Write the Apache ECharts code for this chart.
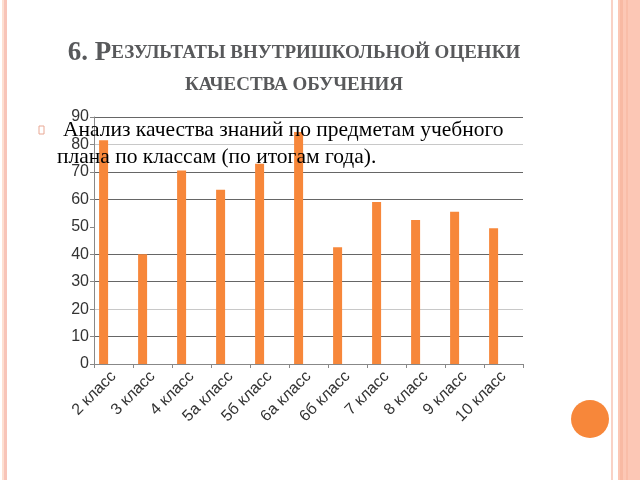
<!DOCTYPE html>
<html><head><meta charset="utf-8">
<script src="https://cdn.jsdelivr.net/npm/echarts@6/dist/echarts.min.js"></script>
<style>html,body{margin:0;padding:0;background:#fff}#c{width:640px;height:480px}</style>
</head><body><div id="c"></div>
<script>
const categories = ['2 класс','3 класс','4 класс','5а класс','5б класс','6а класс','6б класс','7 класс','8 класс','9 класс','10 класс'];
const quality = [81.5, 40, 70.5, 63.5, 73, 84.5, 42.5, 59, 52.5, 55.5, 49.5];
const emptySeriesA = [];
const emptySeriesB = [];
const yTicks = {min: 0, max: 90, interval: 10};
const titleLine1 = ['6. Р', 'езультаты внутришкольной оценки'];
const titleLine2 = 'качества обучения';
const bulletLine1 = 'Анализ качества знаний по предметам учебного';
const bulletLine2 = 'плана по классам (по итогам года).';

const chart = echarts.init(document.getElementById('c'), null, {renderer: 'canvas'});
const orange = '#f7873a';
const gridColors = ['#777','#666','#c8c8c8','#666','#666','#ffffff','#666','#666','#c8c8c8','#666'];
const serif = '"Liberation Serif", "Times New Roman", serif';

chart.setOption({
  backgroundColor: '#ffffff',
  animation: false,
  grid: {left: 94, right: 117, top: 117, height: 247, containLabel: false},
  xAxis: {
    type: 'category', data: categories,
    axisLine: {lineStyle: {color: '#888', width: 1}},
    axisTick: {show: true, length: 4, lineStyle: {color: '#888'}},
    axisLabel: {rotate: 45, fontFamily: '"Liberation Sans", Arial, sans-serif', fontSize: 16, color: '#333', margin: 10}
  },
  yAxis: {
    type: 'value', min: yTicks.min, max: yTicks.max, interval: yTicks.interval,
    axisLine: {show: true, lineStyle: {color: '#888', width: 1}},
    axisTick: {show: true, length: 4, lineStyle: {color: '#888'}},
    axisLabel: {fontFamily: '"Liberation Sans", Arial, sans-serif', fontSize: 16, color: '#333', margin: 5},
    splitLine: {show: true, lineStyle: {color: gridColors, width: 1}}
  },
  series: [
    {type: 'bar', name: 'Качество', data: quality, barWidth: 9, barGap: '10%', itemStyle: {color: orange}, z: 2},
    {type: 'bar', name: 'a', data: emptySeriesA, barWidth: 9, barGap: '10%'},
    {type: 'bar', name: 'b', data: emptySeriesB, barWidth: 9, barGap: '10%'}
  ],
  graphic: [
    {type: 'rect', shape: {x: 2, y: 0, width: 2, height: 480}, style: {fill: '#fde0d2'}, silent: true},
    {type: 'rect', shape: {x: 4, y: 0, width: 3, height: 480}, style: {fill: '#f8c4b8'}, silent: true},
    {type: 'rect', shape: {x: 611, y: 0, width: 2, height: 480}, style: {fill: '#f9d2c6'}, silent: true},
    {type: 'rect', shape: {x: 618, y: 0, width: 22, height: 480}, style: {fill: '#fcc7b5'}, silent: true},
    {type: 'rect', shape: {x: 620, y: 0, width: 3, height: 480}, style: {fill: '#f8b9a3'}, silent: true},
    {type: 'rect', shape: {x: 626, y: 0, width: 2, height: 480}, style: {fill: '#f9bda8'}, silent: true},
    {type: 'circle', shape: {cx: 590, cy: 419, r: 19}, style: {fill: orange}, silent: true},
    {type: 'text', x: 294, y: 67, silent: true, z: 10,
      style: {text: '{a|' + titleLine1[0] + '}{b|' + titleLine1[1].toUpperCase() + '}', align: 'center', verticalAlign: 'bottom',
        rich: {a: {fontFamily: serif, fontSize: 27, fontWeight: 'bold', fill: '#58595b'},
               b: {fontFamily: serif, fontSize: 19, fontWeight: 'bold', fill: '#58595b'}}}},
    {type: 'text', x: 294, y: 95, silent: true, z: 10,
      style: {text: titleLine2.toUpperCase(), align: 'center', verticalAlign: 'bottom',
        fontFamily: serif, fontSize: 19, fontWeight: 'bold', fill: '#58595b'}},
    {type: 'rect', shape: {x: 39, y: 126, width: 5, height: 8}, style: {fill: 'none', stroke: '#e9a894', lineWidth: 1}, silent: true, z: 10},
    {type: 'text', x: 63, y: 141, silent: true, z: 10,
      style: {text: bulletLine1, verticalAlign: 'bottom', fontFamily: serif, fontSize: 21.5, fill: '#000'}},
    {type: 'text', x: 57, y: 168, silent: true, z: 10,
      style: {text: bulletLine2, verticalAlign: 'bottom', fontFamily: serif, fontSize: 21.5, fill: '#000'}}
  ]
});
</script>
</body></html>
